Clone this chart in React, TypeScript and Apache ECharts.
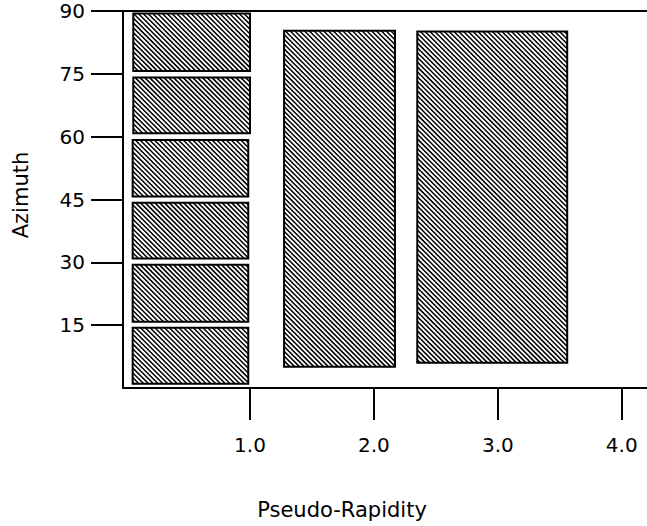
import React, { useEffect, useRef } from "react";
import * as echarts from "echarts";

// Calorimeter cells: pseudo-rapidity range and azimuth range (degrees)
const cellEtaMin = [0.058, 0.058, 0.053, 0.053, 0.053, 0.053, 1.275, 2.35];
const cellEtaMax = [1.0, 1.0, 0.986, 0.986, 0.986, 0.986, 2.17, 3.56];
const cellPhiMin = [75.7, 60.8, 45.7, 30.9, 15.8, 1.0, 5.1, 6.0];
const cellPhiMax = [89.4, 74.1, 59.2, 44.2, 29.4, 14.4, 85.3, 85.1];

const etaTicks = [1, 2, 3, 4];
const phiTicks = [15, 30, 45, 60, 75, 90];

const X_TITLE = "Pseudo-Rapidity";
const Y_TITLE = "Azimuth";

export default function App() {
  const ref = useRef<HTMLDivElement>(null);

  useEffect(() => {
    const chart = echarts.init(ref.current!, null, { renderer: "svg" });
    const HATCH = 4.8;
    const FONT = "DejaVu Sans";

    const renderItem = (_params: any, api: any) => {
      const tl = api.coord([api.value(0), api.value(3)]);
      const br = api.coord([api.value(1), api.value(2)]);
      const x0 = tl[0], y0 = tl[1], x1 = br[0], y1 = br[1];
      let d = "";
      const cStart = Math.ceil((x0 - y1) / HATCH) * HATCH;
      for (let c = cStart; c <= x1 - y0; c += HATCH) {
        const ya = Math.max(y0, x0 - c);
        const yb = Math.min(y1, x1 - c);
        if (yb > ya) {
          d += `M${(ya + c).toFixed(2)} ${ya.toFixed(2)}L${(yb + c).toFixed(2)} ${yb.toFixed(2)}`;
        }
      }
      const rectShape = { x: x0, y: y0, width: x1 - x0, height: y1 - y0 };
      return {
        type: "group",
        children: [
          { type: "rect", shape: rectShape, style: { fill: "#fff", stroke: "none" } },
          { type: "path", shape: { pathData: d }, style: { fill: "none", stroke: "#000", lineWidth: 1.5 } },
          { type: "rect", shape: rectShape, style: { fill: "none", stroke: "#000", lineWidth: 2 } },
        ],
      };
    };

    const data = cellEtaMin.map((v, i) => [v, cellEtaMax[i], cellPhiMin[i], cellPhiMax[i]]);
    const axisLineStyle = { color: "#000", width: 2 };

    chart.setOption({
      animation: false,
      backgroundColor: "#fff",
      grid: { left: 123, right: 0, top: 11, bottom: 138, containLabel: false, outerBoundsMode: "none" },
      xAxis: [
        {
          type: "value",
          min: -0.025,
          max: 4.204,
          position: "bottom",
          axisLine: { show: true, onZero: false, lineStyle: axisLineStyle },
          axisTick: { show: true, length: 32, customValues: etaTicks, lineStyle: axisLineStyle },
          axisLabel: {
            customValues: etaTicks,
            formatter: (v: number) => v.toFixed(1),
            margin: 47,
            fontSize: 20,
            color: "#000",
            fontFamily: FONT,
          },
          splitLine: { show: false },
        },
        {
          type: "value",
          min: -0.025,
          max: 4.204,
          position: "top",
          axisLine: { show: true, onZero: false, lineStyle: axisLineStyle },
          axisTick: { show: false },
          axisLabel: { show: false },
          splitLine: { show: false },
        },
      ],
      yAxis: {
        type: "value",
        min: 0,
        max: 90,
        axisLine: { show: true, onZero: false, lineStyle: axisLineStyle },
        axisTick: { show: true, length: 32, customValues: phiTicks, lineStyle: axisLineStyle },
        axisLabel: {
          customValues: phiTicks,
          margin: 38,
          fontSize: 20,
          color: "#000",
          fontFamily: FONT,
        },
        splitLine: { show: false },
      },
      graphic: [
        {
          type: "text",
          x: 342,
          y: 510,
          style: {
            text: X_TITLE,
            fill: "#000",
            fontSize: 21,
            fontFamily: FONT,
            align: "center",
            verticalAlign: "middle",
          },
        },
        {
          type: "text",
          x: 21,
          y: 195,
          rotation: Math.PI / 2,
          style: {
            text: Y_TITLE,
            fill: "#000",
            fontSize: 21,
            fontFamily: FONT,
            align: "center",
            verticalAlign: "middle",
          },
        },
      ],
      series: [
        {
          type: "custom",
          xAxisIndex: 0,
          yAxisIndex: 0,
          renderItem,
          encode: { x: [0, 1], y: [2, 3] },
          data,
          clip: false,
        },
      ],
    });

    return () => chart.dispose();
  }, []);

  return (
    <div
      ref={ref}
      style={{ position: "absolute", left: 0, top: 0, width: 647, height: 526 }}
    />
  );
}
